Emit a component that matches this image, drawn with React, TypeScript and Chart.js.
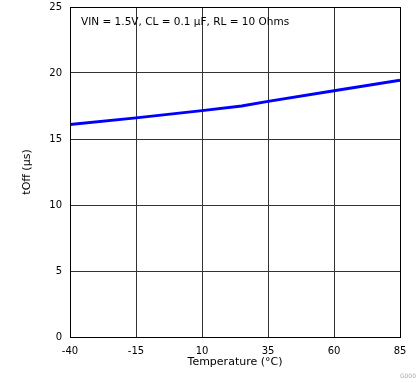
import React, { useEffect, useRef } from "react";
import { Chart, registerables } from "chart.js";

Chart.register(...registerables);

const temperatures = [-40, -15, 10, 25, 35, 60, 85];
const tOff = [16.1, 16.6, 17.15, 17.5, 17.85, 18.65, 19.45];
const xTicks = [-40, -15, 10, 35, 60, 85];
const yTicks = [0, 5, 10, 15, 20, 25];
const annotation = "VIN = 1.5V, CL = 0.1 µF, RL = 10 Ohms";
const xTitle = "Temperature (°C)";
const yTitle = "tOff (µs)";
const footnote = "G000";

const FONT = "'DejaVu Sans', Verdana, sans-serif";

export default function App() {
  const ref = useRef<HTMLCanvasElement>(null);
  useEffect(() => {
    document.body.style.margin = "0";
    const framePlugin = {
      id: "frame",
      afterDraw(chart: any) {
        const { ctx, chartArea } = chart;
        ctx.save();
        ctx.strokeStyle = "#000";
        ctx.lineWidth = 1;
        ctx.strokeRect(chartArea.left + 0.5, chartArea.top + 0.5, chartArea.right - chartArea.left, chartArea.bottom - chartArea.top);
        ctx.fillStyle = "#000";
        ctx.font = `10.5px ${FONT}`;
        ctx.textBaseline = "middle";
        ctx.textAlign = "left";
        ctx.fillText(annotation, chartArea.left + 11, chartArea.top + 15);
        ctx.fillStyle = "#aaa";
        ctx.font = `6px ${FONT}`;
        ctx.textAlign = "right";
        ctx.fillText(footnote, 416, 376);
        ctx.restore();
      },
    };
    const chart = new Chart(ref.current!, {
      type: "line",
      data: {
        datasets: [
          {
            data: temperatures.map((t, i) => ({ x: t, y: tOff[i] })),
            borderColor: "#0000FF",
            borderWidth: 3,
            pointRadius: 0,
            tension: 0,
          },
        ],
      },
      options: {
        animation: false,
        responsive: false,
        layout: { padding: { top: 7, right: 19, left: 0, bottom: 0 } },
        plugins: { legend: { display: false }, tooltip: { enabled: false } },
        scales: {
          x: {
            type: "linear",
            min: -40,
            max: 85,
            afterBuildTicks: (s: any) => {
              s.ticks = xTicks.map((v) => ({ value: v }));
            },
            afterFit: (s: any) => {
              s.height = 45;
            },
            grid: { color: "#333", lineWidth: 1, drawTicks: false },
            border: { color: "#000", width: 1 },
            ticks: { color: "#000", font: { family: FONT, size: 10 }, padding: 8, maxRotation: 0 },
            title: { display: true, text: xTitle, color: "#000", font: { family: FONT, size: 11 }, padding: { top: 0, bottom: 13 } },
          },
          y: {
            min: 0,
            max: 25,
            afterBuildTicks: (s: any) => {
              s.ticks = yTicks.map((v) => ({ value: v }));
            },
            afterFit: (s: any) => {
              s.width = 70;
              s.paddingTop = 0;
              s.paddingBottom = 0;
            },
            grid: { color: "#333", lineWidth: 1, drawTicks: false },
            border: { color: "#000", width: 1 },
            ticks: { color: "#000", font: { family: FONT, size: 10 }, padding: 8 },
            title: { display: true, text: yTitle, color: "#000", font: { family: FONT, size: 11 }, padding: { top: 21, bottom: 0 } },
          },
        },
      },
      plugins: [framePlugin],
    });
    return () => chart.destroy();
  }, []);
  return (
    <div style={{ position: "absolute", left: 0, top: 0, width: 419, height: 382 }}>
      <canvas ref={ref} width={419} height={382} style={{ width: 419, height: 382 }} />
    </div>
  );
}
